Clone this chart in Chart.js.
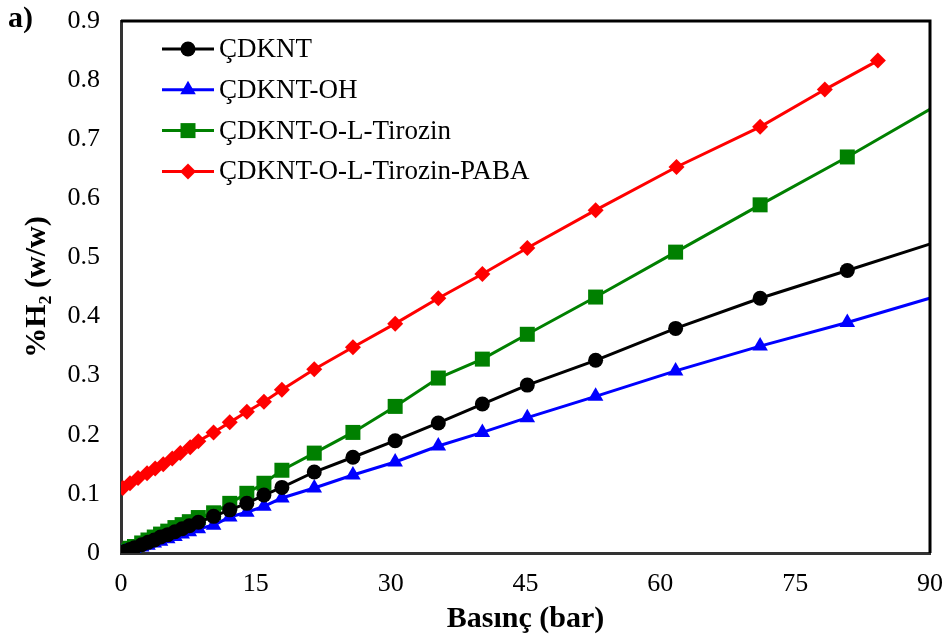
<!DOCTYPE html>
<html>
<head>
<meta charset="utf-8">
<script src="https://cdn.jsdelivr.net/npm/chart.js@4.4.1/dist/chart.umd.min.js"></script>
<style>
  html, body { margin: 0; padding: 0; background: #fff; }
  #wrap { width: 948px; height: 643px; }
</style>
</head>
<body>
<div id="wrap"><canvas id="grafik" width="948" height="643"></canvas></div>
<script>
// basinç (bar) - ortak noktalar
const basincOrtak = [0, 0.5, 1, 1.5, 2.3, 3, 3.7, 4.4, 5.2, 6, 6.8, 7.6, 8.6, 10.3, 12.1, 14, 15.9, 17.9, 21.5, 25.8, 30.5, 35.3, 40.2, 45.2, 52.8, 61.7, 71.1, 80.8, 91.5];
const h2Cdknt = [0.001, 0.003, 0.006, 0.009, 0.014, 0.018, 0.022, 0.027, 0.031, 0.036, 0.041, 0.046, 0.052, 0.062, 0.073, 0.084, 0.098, 0.111, 0.137, 0.162, 0.190, 0.220, 0.252, 0.284, 0.326, 0.380, 0.431, 0.478, 0.530];
const h2CdkntOh = [0.000, 0.002, 0.004, 0.006, 0.010, 0.013, 0.017, 0.020, 0.024, 0.028, 0.032, 0.036, 0.041, 0.047, 0.061, 0.069, 0.079, 0.093, 0.110, 0.132, 0.154, 0.181, 0.204, 0.229, 0.265, 0.308, 0.350, 0.390, 0.438];
const h2Tirozin = [0.002, 0.004, 0.008, 0.011, 0.017, 0.022, 0.027, 0.032, 0.037, 0.043, 0.048, 0.053, 0.060, 0.068, 0.084, 0.101, 0.118, 0.140, 0.169, 0.204, 0.248, 0.296, 0.328, 0.370, 0.433, 0.509, 0.589, 0.670, 0.764];
// PABA serisi ayri basinç noktalari
const basincPaba = [0.2, 1, 1.9, 2.9, 3.8, 4.7, 5.7, 6.6, 7.7, 8.6, 10.3, 12.1, 14, 15.9, 17.9, 21.5, 25.8, 30.5, 35.3, 40.2, 45.2, 52.8, 61.8, 71.1, 78.3, 84.2];
const h2Paba = [0.110, 0.118, 0.127, 0.135, 0.143, 0.150, 0.160, 0.169, 0.179, 0.189, 0.204, 0.221, 0.239, 0.256, 0.276, 0.311, 0.348, 0.388, 0.431, 0.472, 0.516, 0.580, 0.653, 0.721, 0.784, 0.833];

const seriNames = ["ÇDKNT", "ÇDKNT-OH", "ÇDKNT-O-L-Tirozin", "ÇDKNT-O-L-Tirozin-PABA"];
const xTicks = [0, 15, 30, 45, 60, 75, 90];
const yTicks = [0, 0.1, 0.2, 0.3, 0.4, 0.5, 0.6, 0.7, 0.8, 0.9];

const FONT = "'Liberation Serif', 'Times New Roman', serif";

function pary(xs, ys) {
  return xs.map((x, i) => ({ x: x, y: ys[i] }));
}

function seri(label, xs, ys, color, style, r) {
  return {
    label: label,
    data: pary(xs, ys),
    borderColor: color,
    backgroundColor: color,
    pointStyle: style,
    pointRadius: r,
    pointHoverRadius: r,
    pointBorderWidth: 0,
    borderWidth: 3,
    tension: 0
  };
}

// legend: cizgi + isaret, grafigin icinde sol ustte
const legendPlugin = {
  id: "legendPlugin",
  afterDraw(chart) {
    const ctx = chart.ctx;
    chart.data.datasets.forEach((ds, i) => {
      const y = 49 + i * 40.8;
      ctx.save();
      ctx.strokeStyle = ds.borderColor;
      ctx.lineWidth = 3;
      ctx.beginPath();
      ctx.moveTo(162, y);
      ctx.lineTo(214, y);
      ctx.stroke();
      ctx.fillStyle = ds.backgroundColor;
      ctx.strokeStyle = ds.borderColor;
      Chart.helpers.drawPoint(ctx, { pointStyle: ds.pointStyle, radius: ds.pointRadius, borderWidth: 0, rotation: 0 }, 188, y);
      ctx.fillStyle = "#000";
      ctx.font = "27px " + FONT;
      ctx.textBaseline = "middle";
      ctx.textAlign = "left";
      ctx.fillText(ds.label, 219, y + 1);
      ctx.restore();
    });
  }
};

// ramka: ust ve sag cizgi + "a)"
const ramkaPlugin = {
  id: "ramkaPlugin",
  afterDraw(chart) {
    const { ctx, chartArea } = chart;
    ctx.save();
    ctx.strokeStyle = "#000";
    ctx.lineWidth = 3;
    ctx.beginPath();
    ctx.moveTo(chartArea.left, chartArea.top);
    ctx.lineTo(chartArea.right, chartArea.top);
    ctx.lineTo(chartArea.right, chartArea.bottom);
    ctx.stroke();
    ctx.fillStyle = "#000";
    ctx.font = "bold 30px " + FONT;
    ctx.textBaseline = "middle";
    ctx.textAlign = "left";
    ctx.fillText("a)", 8, 19);
    ctx.restore();
  }
};

function sifirPadding(scale) {
  scale.paddingTop = 0;
  scale.paddingBottom = 0;
  scale.paddingLeft = 0;
  scale.paddingRight = 0;
}

const ctx = document.getElementById("grafik").getContext("2d");
const grafik = new Chart(ctx, {
  type: "line",
  data: {
    datasets: [
      seri(seriNames[0], basincOrtak, h2Cdknt, "#000000", "circle", 7.5),
      seri(seriNames[1], basincOrtak, h2CdkntOh, "#0000FF", "triangle", 9),
      seri(seriNames[2], basincOrtak, h2Tirozin, "#008000", "rect", 10.6),
      seri(seriNames[3], basincPaba, h2Paba, "#FF0000", "rectRot", 8)
    ]
  },
  options: {
    responsive: false,
    animation: false,
    layout: { padding: { top: 21, right: 18, left: 0, bottom: 0 } },
    plugins: {
      legend: { display: false },
      tooltip: { enabled: false }
    },
    scales: {
      x: {
        type: "linear",
        min: 0,
        max: 90,
        afterFit(scale) { scale.height = 90; sifirPadding(scale); },
        afterBuildTicks(scale) { scale.ticks = xTicks.map(v => ({ value: v })); },
        grid: { display: false, drawTicks: false },
        border: { display: true, color: "#333", width: 3 },
        ticks: { color: "#000", font: { family: FONT, size: 26 }, padding: 16, maxRotation: 0 },
        title: {
          display: true,
          text: "Basınç (bar)",
          color: "#000",
          font: { family: FONT, size: 30, weight: "bold" },
          padding: { top: 0, bottom: 6 }
        }
      },
      y: {
        min: 0,
        max: 0.9,
        afterFit(scale) { scale.width = 121; sifirPadding(scale); },
        afterBuildTicks(scale) { scale.ticks = yTicks.map(v => ({ value: v })); },
        grid: { display: false, drawTicks: false },
        border: { display: true, color: "#333", width: 3 },
        ticks: {
          color: "#000",
          font: { family: FONT, size: 26 },
          padding: 21,
          callback: v => String(Math.round(v * 10) / 10)
        },
        title: {
          display: true,
          text: "%H₂ (w/w)",
          color: "#000",
          font: { family: FONT, size: 30, weight: "bold" },
          padding: { top: 19, bottom: 0 }
        }
      }
    }
  },
  plugins: [legendPlugin, ramkaPlugin]
});
</script>
</body>
</html>
